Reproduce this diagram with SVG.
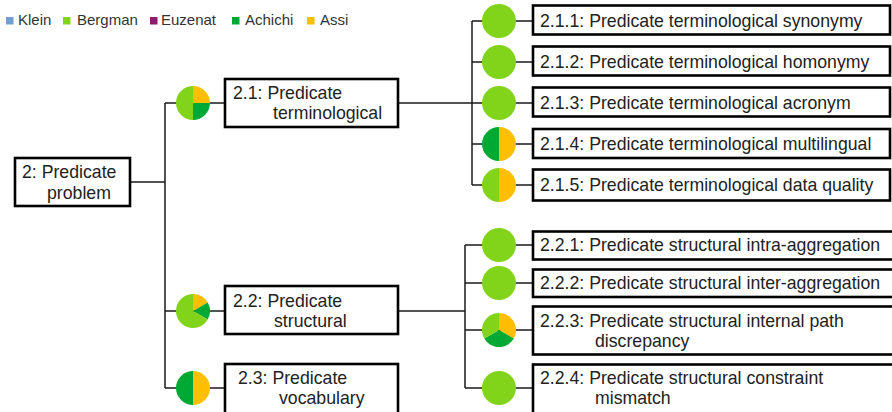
<svg xmlns="http://www.w3.org/2000/svg" xmlns:xlink="http://www.w3.org/1999/xlink" width="892" height="412" viewBox="0 0 892 412">
<style>
.box{fill:#fff;stroke:#000;stroke-width:2.6}
.t{font-family:"Liberation Sans",Arial,sans-serif;font-size:17.7px;fill:#222}
.lg{font-family:"Liberation Sans",Arial,sans-serif;font-size:15px;fill:#333}
.c{fill:none;stroke:#1a1a1a;stroke-width:1.5}
.lime{fill:#81d41a}.green{fill:#00a933}.gold{fill:#ffbf00}.blue{fill:#729fcf}.purple{fill:#8b1c6f}
</style>
<defs>
<g id="pFull"><circle r="17" class="lime"/></g>
<g id="pGreenGold"><path d="M0,-17 A17,17 0 0,0 0,17 Z" class="green"/><path d="M0,-17 A17,17 0 0,1 0,17 Z" class="gold"/></g>
<g id="pLimeGold"><path d="M0,-17 A17,17 0 0,0 0,17 Z" class="lime"/><path d="M0,-17 A17,17 0 0,1 0,17 Z" class="gold"/></g>
<g id="pQuarter"><path d="M0,-17 A17,17 0 0,0 0,17 Z" class="lime"/><path d="M0,0 L0,-17 A17,17 0 0,1 17,0 Z" class="gold"/><path d="M0,0 L17,0 A17,17 0 0,1 0,17 Z" class="green"/></g>
<g id="pSixth"><path d="M0,0 L0,-17 A17,17 0 0,1 14.72,-8.5 Z" class="gold"/><path d="M0,0 L14.72,-8.5 A17,17 0 0,1 14.72,8.5 Z" class="green"/><path d="M0,0 L14.72,8.5 A17,17 0 1,1 0,-17 Z" class="lime"/></g>
<g id="pThird"><path d="M0,0 L0,-17 A17,17 0 0,1 14.72,8.5 Z" class="gold"/><path d="M0,0 L14.72,8.5 A17,17 0 0,1 -14.72,8.5 Z" class="green"/><path d="M0,0 L-14.72,8.5 A17,17 0 0,1 0,-17 Z" class="lime"/></g>
</defs>

<g id="legend">
<rect x="6" y="17" width="7.5" height="7.5" class="blue"/><text x="18" y="25" class="lg">Klein</text>
<rect x="63" y="17" width="7.5" height="7.5" class="lime"/><text x="77" y="25" class="lg">Bergman</text>
<rect x="150" y="17" width="7.5" height="7.5" class="purple"/><text x="161" y="25" class="lg">Euzenat</text>
<rect x="232" y="17" width="7.5" height="7.5" class="green"/><text x="245" y="25" class="lg">Achichi</text>
<rect x="307" y="17" width="7.5" height="7.5" class="gold"/><text x="320" y="25" class="lg">Assi</text>
</g>

<g id="connectors">
<path class="c" d="M130,182 H165 M165,103 V388 M165,103 H225 M165,311 H225 M165,388 H225"/>
<path class="c" d="M398,103 H472 M472,21 V185 M472,21 H533 M472,62 H533 M472,103 H533 M472,144 H533 M472,185 H533"/>
<path class="c" d="M398,311 H465 M465,245 V388 M465,245 H533 M465,283 H533 M465,330 H533 M465,388 H533"/>
</g>

<g id="n2"><rect x="15" y="158" width="115" height="48" class="box"/><text class="t" x="22" y="178">2: Predicate</text><text class="t" x="47" y="199">problem</text></g>

<g id="n2_1"><use xlink:href="#pQuarter" x="193" y="103"/><rect x="225" y="79" width="173" height="48" class="box"/><text class="t" x="233" y="99">2.1: Predicate</text><text class="t" x="273" y="119">terminological</text></g>
<g id="n2_2"><use xlink:href="#pSixth" x="193" y="311"/><rect x="225" y="286" width="173" height="48" class="box"/><text class="t" x="233" y="307">2.2: Predicate</text><text class="t" x="274" y="327">structural</text></g>
<g id="n2_3"><use xlink:href="#pGreenGold" x="193" y="388"/><rect x="225" y="364" width="173" height="60" class="box"/><text class="t" x="238" y="384">2.3: Predicate</text><text class="t" x="279" y="404">vocabulary</text></g>

<g id="n2_1_1"><use xlink:href="#pFull" x="499" y="21"/><rect x="533" y="5.5" width="357" height="29" class="box"/><text class="t" x="540" y="27">2.1.1: Predicate terminological synonymy</text></g>
<g id="n2_1_2"><use xlink:href="#pFull" x="499" y="62"/><rect x="533" y="46.5" width="357" height="29" class="box"/><text class="t" x="540" y="68">2.1.2: Predicate terminological homonymy</text></g>
<g id="n2_1_3"><use xlink:href="#pFull" x="499" y="103"/><rect x="533" y="87.5" width="357" height="29" class="box"/><text class="t" x="540" y="109">2.1.3: Predicate terminological acronym</text></g>
<g id="n2_1_4"><use xlink:href="#pGreenGold" x="499" y="144"/><rect x="533" y="129" width="357" height="29" class="box"/><text class="t" x="540" y="150">2.1.4: Predicate terminological multilingual</text></g>
<g id="n2_1_5"><use xlink:href="#pLimeGold" x="499" y="185"/><rect x="533" y="169.5" width="357" height="31" class="box"/><text class="t" x="540" y="191">2.1.5: Predicate terminological data quality</text></g>

<g id="n2_2_1"><use xlink:href="#pFull" x="499" y="245"/><rect x="533" y="231.5" width="380" height="28" class="box"/><text class="t" x="540" y="251">2.2.1: Predicate structural intra-aggregation</text></g>
<g id="n2_2_2"><use xlink:href="#pFull" x="499" y="283"/><rect x="533" y="269.5" width="380" height="27.5" class="box"/><text class="t" x="540" y="288.5">2.2.2: Predicate structural inter-aggregation</text></g>
<g id="n2_2_3"><use xlink:href="#pThird" x="499" y="330"/><rect x="533" y="306.5" width="380" height="48" class="box"/><text class="t" x="540" y="327">2.2.3: Predicate structural internal path</text><text class="t" x="595" y="347">discrepancy</text></g>
<g id="n2_2_4"><use xlink:href="#pFull" x="499" y="388"/><rect x="533" y="364.5" width="380" height="60" class="box"/><text class="t" x="540" y="384">2.2.4: Predicate structural constraint</text><text class="t" x="595" y="404">mismatch</text></g>
</svg>
